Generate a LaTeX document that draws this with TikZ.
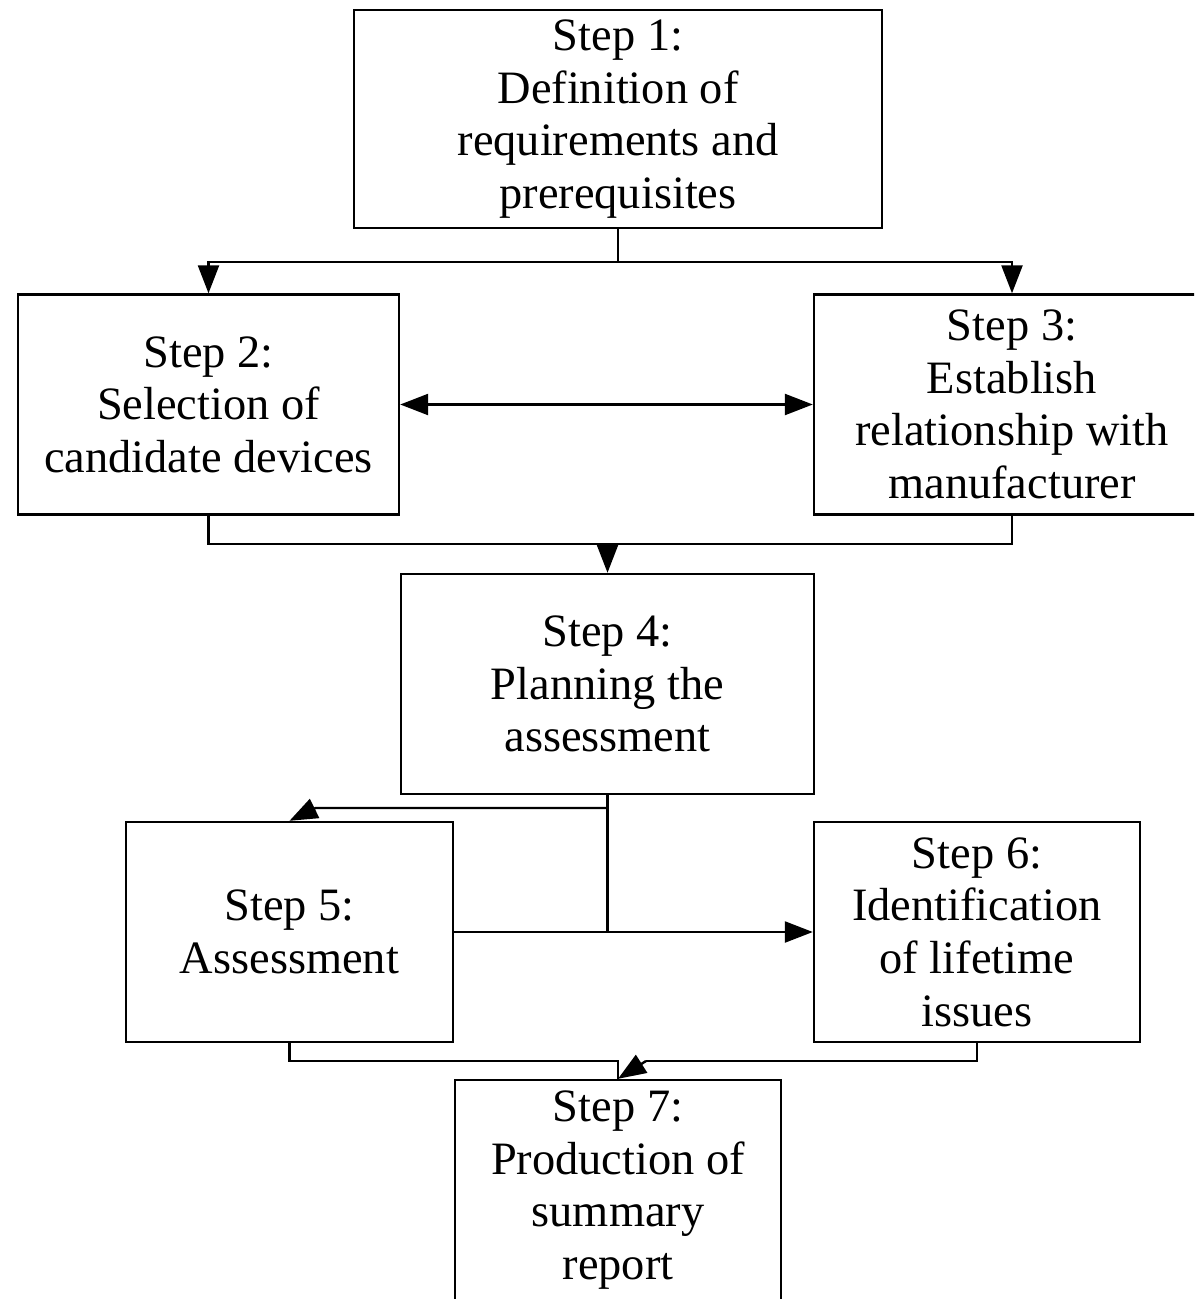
\documentclass[tikz,border=0pt]{standalone}
\usepackage{fontspec}
\setmainfont{Liberation Serif}
\usetikzlibrary{arrows.meta}

\begin{document}
\begin{tikzpicture}[x=0.5pt,y=0.5pt,yscale=-1,xscale=1,
  stepbox/.style={draw,line width=1.2pt,inner sep=0pt,minimum height=110pt,align=center,font=\fontsize{23.2}{26.3}\selectfont},
  link/.style={line width=1.2pt},
  arr/.style={line width=1.2pt,-{Triangle[length=14pt,width=10.5pt]}}]
\path[use as bounding box,clip] (0,0) rectangle (1194,1299);

% Boxes
\node [stepbox,minimum width=264pt,minimum height=109pt] (s1) at (618,119) {Step 1:\\Definition of\\requirements and\\prerequisites};
\node [stepbox,minimum width=190.5pt] (s2) at (208.5,404.5) {Step 2:\\Selection of\\candidate devices};
\node [stepbox,minimum width=198pt] (s3) at (1012,404.5) {Step 3:\\Establish\\relationship with\\manufacturer};
\node [stepbox,minimum width=206.5pt] (s4) at (607.5,684) {Step 4:\\Planning the\\assessment};
\node [stepbox,minimum width=163.5pt] (s5) at (289.5,932) {Step 5:\\Assessment};
\node [stepbox,minimum width=163pt] (s6) at (977,932) {Step 6:\\Identification\\of lifetime\\issues};
\node [stepbox,minimum width=163pt] (s7) at (618,1190) {Step 7:\\Production of\\summary\\report};

% Junctions
\coordinate (j1) at (618,262);
\coordinate (j2) at (607.5,544);
\coordinate (j3) at (607.5,808);
\coordinate (j4) at (607.5,932);
\coordinate (j5) at (618,1061);
\coordinate (j6) at (646,1061);

% Connectors
\draw [link] (s1.south) -- (j1);
\draw [arr] (j1) -| (s2.north);
\draw [arr] (j1) -| (s3.north);
\draw [arr,{Triangle[length=14pt,width=10.5pt]}-{Triangle[length=14pt,width=10.5pt]}] (s2.east) -- (s3.west);
\draw [link] (s2.south) |- (j2) -| (s3.south);
\draw [arr] (j2) -- (s4.north);
\draw [link] (s4.south) -- (j4);
\draw [arr] (j3) -- (315.5,808) -- (s5.north);
\draw [arr] (s5.east) -- (s6.west);
\draw [link] (s5.south) |- (j5) -- (s7.north);
\draw [link] (s6.south) |- (j6);
\draw [arr] (j6) -- (s7.north);

\end{tikzpicture}
\end{document}
